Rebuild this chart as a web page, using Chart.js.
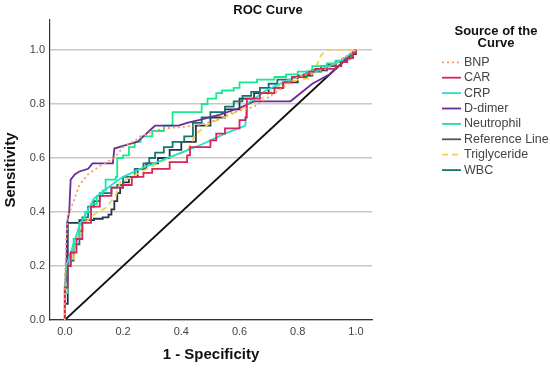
<!DOCTYPE html>
<html>
<head>
<meta charset="utf-8">
<script src="https://cdn.jsdelivr.net/npm/chart.js@4"></script>
<style>
  body { margin: 0; background: #fff; }
  #wrap { width: 550px; height: 368px; }
</style>
</head>
<body>
<div id="wrap"><canvas id="roc" width="550" height="368"></canvas></div>
<script>
// ROC curve points [1 - specificity, sensitivity]
const bnp = [[0,0],[0,0.12],[0.005,0.3],[0.01,0.38],[0.02,0.41],[0.03,0.44],[0.05,0.5],[0.08,0.54],[0.12,0.57],[0.17,0.6],[0.2,0.64],[0.25,0.67],[0.3,0.7],[0.35,0.71],[0.45,0.72],[0.52,0.74],[0.58,0.77],[0.65,0.79],[0.72,0.84],[0.8,0.9],[0.9,0.93],[1,1]];
const car = [[0,0],[0,0.12],[0.01,0.2],[0.02,0.25],[0.04,0.3],[0.06,0.36],[0.09,0.42],[0.12,0.46],[0.16,0.49],[0.2,0.5],[0.23,0.53],[0.27,0.545],[0.3,0.56],[0.36,0.585],[0.42,0.61],[0.43,0.64],[0.5,0.665],[0.52,0.69],[0.55,0.71],[0.6,0.74],[0.62,0.75],[0.625,0.82],[0.67,0.84],[0.72,0.86],[0.75,0.88],[0.78,0.9],[0.82,0.91],[0.84,0.92],[0.86,0.93],[0.91,0.93],[0.93,0.94],[0.95,0.955],[0.97,0.97],[0.99,0.99],[1,1]];
const crp = [[0,0],[0,0.12],[0.005,0.2],[0.02,0.25],[0.05,0.35],[0.1,0.45],[0.16,0.5],[0.2,0.53],[0.26,0.56],[0.33,0.59],[0.4,0.62],[0.47,0.65],[0.55,0.69],[0.62,0.72],[0.625,0.8],[0.69,0.85],[0.77,0.89],[0.86,0.92],[0.94,0.955],[1,1]];
const ddimer = [[0,0],[0,0.13],[0.005,0.15],[0.008,0.36],[0.015,0.4],[0.02,0.52],[0.035,0.54],[0.05,0.55],[0.08,0.56],[0.095,0.58],[0.165,0.58],[0.17,0.635],[0.2,0.645],[0.25,0.66],[0.27,0.68],[0.3,0.71],[0.31,0.72],[0.39,0.72],[0.42,0.73],[0.46,0.74],[0.53,0.76],[0.6,0.785],[0.65,0.81],[0.775,0.81],[0.85,0.875],[0.91,0.91],[1,1]];
const neutrophil = [[0,0],[0,0.1],[0.01,0.2],[0.02,0.25],[0.03,0.3],[0.05,0.36],[0.07,0.4],[0.09,0.43],[0.11,0.46],[0.13,0.48],[0.14,0.52],[0.175,0.53],[0.18,0.6],[0.2,0.61],[0.22,0.64],[0.24,0.66],[0.26,0.68],[0.3,0.7],[0.34,0.72],[0.37,0.77],[0.46,0.77],[0.47,0.8],[0.49,0.82],[0.52,0.84],[0.54,0.85],[0.58,0.86],[0.6,0.88],[0.66,0.89],[0.72,0.9],[0.76,0.91],[0.8,0.92],[0.85,0.94],[0.9,0.95],[0.93,0.96],[0.96,0.965],[0.98,0.98],[0.99,0.99],[1,1]];
const refLine = [[0,0],[1,1]];
const triglyceride = [[0,0.05],[0,0.15],[0.005,0.22],[0.02,0.24],[0.03,0.22],[0.04,0.3],[0.05,0.33],[0.09,0.385],[0.14,0.415],[0.175,0.46],[0.19,0.51],[0.23,0.53],[0.3,0.57],[0.37,0.605],[0.42,0.625],[0.45,0.69],[0.5,0.73],[0.57,0.76],[0.62,0.79],[0.69,0.83],[0.74,0.87],[0.8,0.89],[0.84,0.895],[0.86,0.93],[0.88,0.98],[0.9,1],[0.93,1],[1,1]];
const wbc = [[0,0],[0,0.12],[0.01,0.2],[0.02,0.22],[0.03,0.28],[0.05,0.33],[0.06,0.38],[0.08,0.42],[0.1,0.44],[0.12,0.47],[0.16,0.49],[0.18,0.5],[0.2,0.53],[0.24,0.56],[0.27,0.58],[0.29,0.6],[0.31,0.62],[0.34,0.64],[0.37,0.66],[0.41,0.68],[0.44,0.73],[0.47,0.75],[0.5,0.77],[0.55,0.79],[0.58,0.81],[0.61,0.83],[0.64,0.845],[0.67,0.86],[0.7,0.875],[0.73,0.89],[0.78,0.9],[0.83,0.92],[0.88,0.94],[0.93,0.955],[0.95,0.96],[0.97,0.975],[0.99,0.99],[1,1]];
const darkCurve = [[0,0],[0,0.06],[0.008,0.06],[0.01,0.36],[0.04,0.36],[0.05,0.37],[0.1,0.375],[0.13,0.38],[0.15,0.39],[0.16,0.41],[0.17,0.44],[0.18,0.47],[0.19,0.49],[0.2,0.51],[0.22,0.53],[0.25,0.56],[0.28,0.58],[0.32,0.6],[0.36,0.63],[0.4,0.66],[0.45,0.72],[0.5,0.75],[0.55,0.78],[0.6,0.82],[0.65,0.84],[0.7,0.86],[0.75,0.88],[0.8,0.905],[0.85,0.925],[0.9,0.945],[0.93,0.955],[0.96,0.97],[0.98,0.985],[1,1]];

const xTicks = [0, 0.2, 0.4, 0.6, 0.8, 1.0];
const yTicks = [0, 0.2, 0.4, 0.6, 0.8, 1.0];

const FONT = "'Liberation Sans', Arial, sans-serif";

function pts(arr) {
  return arr.map(p => ({x: p[0], y: p[1]}));
}

function line(label, arr, color, dash, stepped) {
  return {
    label: label,
    data: pts(arr),
    borderColor: color,
    backgroundColor: color,
    borderWidth: 1.8,
    borderDash: dash || [],
    stepped: stepped || false,
    pointRadius: 0,
    fill: false,
    tension: 0
  };
}

var datasets = [
  line('BNP', bnp, '#f39a5c', [2, 3]),
  line('CAR', car, '#d9245b', null, 'before'),
  line('CRP', crp, '#22e0d2'),
  line('D-dimer', ddimer, '#6a2c9a'),
  line('Neutrophil', neutrophil, '#18e890', null, 'before'),
  line('Reference Line', refLine, '#111111'),
  line('Triglyceride', triglyceride, '#f7d04a', [6, 4]),
  line('WBC', wbc, '#17766c', null, 'before'),
  line('', darkCurve, '#24344a', null, 'before')
];

// title + legend drawn at fixed spots, like the SPSS output
const sideText = {
  id: 'sideText',
  afterDraw(chart) {
    const ctx = chart.ctx;
    ctx.save();
    ctx.fillStyle = '#111';
    ctx.textAlign = 'center';
    ctx.textBaseline = 'middle';
    ctx.font = 'bold 13px ' + FONT;
    ctx.fillText('ROC Curve', 268, 10);
    ctx.fillText('Source of the', 496, 31);
    ctx.fillText('Curve', 496, 43);

    ctx.textAlign = 'left';
    ctx.font = '12.5px ' + FONT;
    let y = 62.3;
    chart.data.datasets.forEach(ds => {
      if (!ds.label) return;
      ctx.strokeStyle = ds.label === 'Reference Line' ? '#555' : ds.borderColor;
      ctx.lineWidth = 1.8;
      ctx.setLineDash(ds.borderDash);
      ctx.beginPath();
      ctx.moveTo(442, y);
      ctx.lineTo(461, y);
      ctx.stroke();
      ctx.setLineDash([]);
      ctx.fillStyle = '#444';
      ctx.fillText(ds.label, 464, y);
      y += 15.4;
    });
    ctx.restore();
  }
};

new Chart(document.getElementById('roc'), {
  type: 'line',
  data: { datasets: datasets },
  plugins: [sideText],
  options: {
    responsive: false,
    animation: false,
    layout: { padding: { top: 20, right: 178, left: 0, bottom: 0 } },
    plugins: {
      legend: { display: false },
      title: { display: false },
      tooltip: { enabled: false }
    },
    scales: {
      x: {
        type: 'linear',
        min: -0.051,
        max: 1.055,
        afterFit(scale) { scale.height = 48; },
        afterBuildTicks(scale) { scale.ticks = xTicks.map(v => ({value: v})); },
        grid: { display: false, drawTicks: false },
        border: { display: true, color: '#333', width: 1.2 },
        ticks: {
          padding: 5,
          color: '#444',
          font: { family: FONT, size: 11 },
          callback: v => v.toFixed(1)
        },
        title: {
          display: true,
          text: '1 - Specificity',
          color: '#111',
          font: { family: FONT, size: 15, weight: 'bold' },
          padding: { top: 4, bottom: 4 }
        }
      },
      y: {
        type: 'linear',
        min: 0,
        max: 1.111,
        afterFit(scale) { scale.width = 50; },
        afterBuildTicks(scale) { scale.ticks = yTicks.map(v => ({value: v})); },
        grid: { color: '#c8c8c8', lineWidth: 1.5, drawTicks: false },
        border: { display: true, color: '#333', width: 1.2 },
        ticks: {
          padding: 5,
          color: '#444',
          font: { family: FONT, size: 11 },
          callback: v => v.toFixed(1)
        },
        title: {
          display: true,
          text: 'Sensitivity',
          color: '#111',
          font: { family: FONT, size: 15, weight: 'bold' },
          padding: { top: 2, bottom: 4 }
        }
      }
    }
  }
});
</script>
</body>
</html>
